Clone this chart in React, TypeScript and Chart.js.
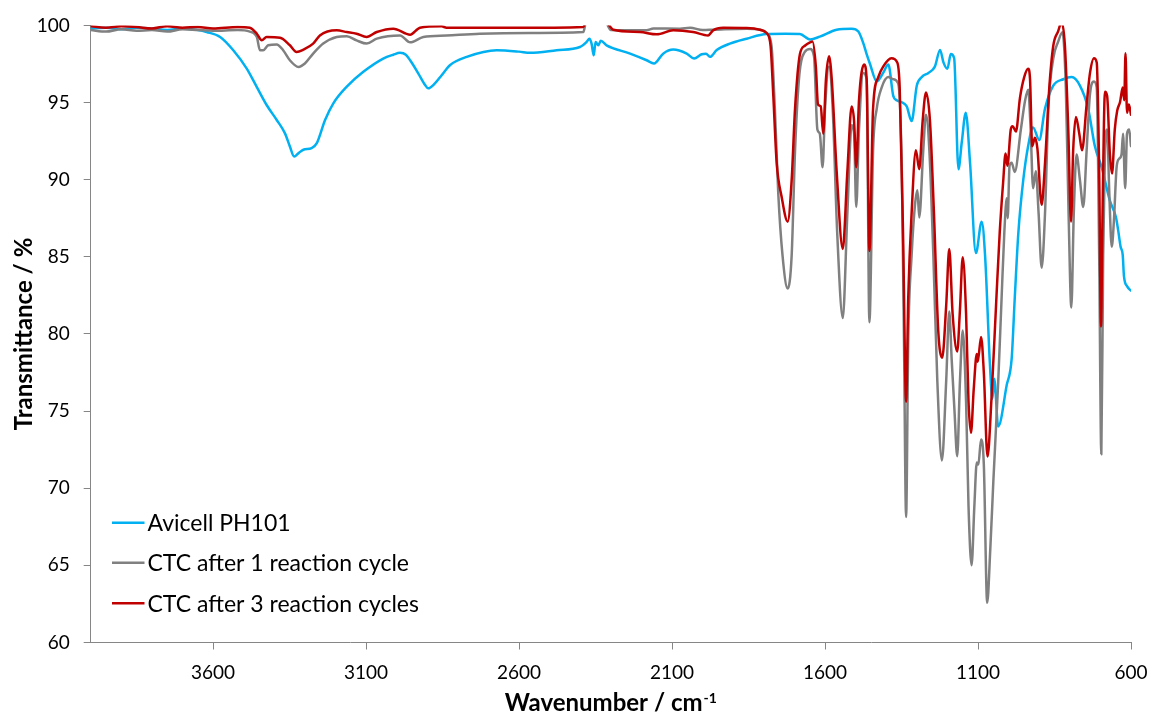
import React, { useEffect, useRef } from "react";
import { Chart, registerables } from "chart.js";

Chart.register(...registerables);

// ---------------- DATA ----------------
const seriesLabels = ["Avicell PH101", "CTC after 1 reaction cycle", "CTC after 3 reaction cycles"];
const seriesColors = ["#00B0F0", "#808080", "#C00000"];

const xTickValues = [3600, 3100, 2600, 2100, 1600, 1100, 600];
const yTickStep = 5;

// Avicell PH101
const avicelWn = [
  4000, 3950, 3900, 3850, 3800, 3750, 3700, 3650, 3621, 3577, 3534, 3490, 3457, 3425, 3392, 3365, 3349, 3335,
  3321, 3305, 3278, 3261, 3234, 3207, 3163, 3109, 3044, 3011, 2989, 2970, 2956, 2929, 2907, 2897, 2875, 2853,
  2826, 2771, 2673, 2600, 2564, 2477, 2401, 2379, 2370, 2363, 2356, 2350, 2341, 2333, 2314, 2237, 2183, 2159,
  2129, 2096, 2052, 2028, 2003, 1989, 1976, 1954, 1911, 1856, 1791, 1730, 1682, 1649, 1617, 1562, 1513, 1491,
  1475, 1464, 1453, 1431, 1410, 1393, 1377, 1366, 1349, 1333, 1317, 1300, 1284, 1262, 1241, 1224, 1213, 1200,
  1189, 1178, 1164, 1153, 1140, 1126, 1107, 1088, 1077, 1061, 1053, 1047, 1034, 1006, 990, 980, 968, 952, 936,
  920, 900, 881, 854, 821, 794, 767, 740, 718, 696, 669, 649, 642, 634, 627, 623, 612, 600,
];
const avicelT = [
  99.8, 99.85, 99.75, 99.85, 99.8, 99.7, 99.8, 99.7, 99.57, 99.25, 98.39, 97.2, 96.0, 94.84, 93.87, 93.0, 92.15, 91.5,
  91.72, 91.94, 92.05, 92.37, 93.87, 94.95, 96.03, 96.99, 97.85, 98.1, 98.22, 98.1, 97.74, 96.88, 96.13, 95.92, 96.24, 96.77,
  97.42, 97.96, 98.39, 98.3, 98.22, 98.39, 98.6, 98.93, 99.14, 98.82, 98.06, 98.93, 98.71, 99.0, 98.71, 98.17, 97.74, 97.53,
  98.17, 98.43, 98.17, 97.85, 98.13, 98.17, 97.96, 98.4, 98.82, 99.14, 99.44, 99.46, 99.45, 99.09, 99.27, 99.72, 99.79, 99.6,
  98.85, 98.14, 97.5, 96.37, 96.92, 97.46, 95.43, 95.15, 95.02, 94.75, 93.8, 96.1, 96.65, 96.92, 97.33, 98.41, 97.6, 97.19,
  98.14, 97.87, 90.68, 92.44, 94.34, 91.08, 85.24, 87.28, 85.11, 78.0, 75.8, 77.1, 74.0, 76.7, 78.4, 82.3, 86.6, 90.0, 92.2,
  93.39, 92.57, 94.61, 96.1, 96.51, 96.65, 96.1, 94.61, 92.17, 90.81, 88.64, 87.55, 86.73, 85.65, 85.11, 83.75, 83.07, 82.8,
];

// CTC after 1 reaction cycle
const ctc1Wn = [
  4000, 3950, 3900, 3850, 3800, 3750, 3700, 3650, 3600, 3520, 3480, 3457, 3447, 3436, 3420, 3392, 3371, 3349,
  3321, 3300, 3273, 3240, 3196, 3163, 3131, 3098, 3065, 2989, 2956, 2913, 2837, 2728, 2564, 2390, 2380, 2320,
  2300, 2183, 2161, 2074, 2041, 2000, 1966, 1856, 1813, 1791, 1775, 1764, 1753, 1739, 1722, 1709, 1698, 1684,
  1666, 1649, 1636, 1625, 1617, 1608, 1600, 1587, 1575, 1560, 1542, 1527, 1513, 1505, 1498, 1489, 1475, 1464,
  1455, 1443, 1431, 1415, 1393, 1377, 1361, 1349, 1342, 1335, 1328, 1317, 1306, 1298, 1292, 1279, 1270, 1259,
  1246, 1233, 1218, 1204, 1194, 1186, 1177, 1168, 1159, 1150, 1139, 1131, 1121, 1112, 1104, 1099, 1090, 1081,
  1070, 1060, 1050, 1034, 1023, 1014, 1006, 1003, 997, 990, 980, 960, 946, 936, 928, 920, 911, 902, 892, 881, 870,
  854, 838, 824, 813, 804, 795, 787, 778, 767, 756, 745, 734, 721, 712, 704, 697, 691, 685, 678, 671, 663, 656,
  647, 639, 631, 626, 619, 613, 606, 600,
];
const ctc1T = [
  99.7, 99.6, 99.75, 99.65, 99.7, 99.6, 99.75, 99.7, 99.65, 99.7, 99.6, 99.25, 98.39, 98.39, 98.71, 98.77, 98.39, 97.74,
  97.31, 97.53, 98.17, 98.82, 99.25, 99.3, 99.03, 98.82, 99.14, 99.35, 98.9, 99.25, 99.35, 99.46, 99.51, 99.57, 100.3, 100.3,
  99.7, 99.68, 99.8, 99.79, 99.85, 99.7, 99.72, 99.79, 99.72, 99.5, 98.68, 94.61, 89.18, 85.11, 82.94, 85.11, 91.9, 96.79,
  98.28, 98.47, 98.0, 93.25, 92.98, 90.81, 94.61, 97.33, 94.61, 86.46, 81.03, 87.83, 93.52, 92.98, 88.23, 93.25, 96.92, 96.51,
  80.76, 91.9, 94.61, 95.97, 96.65, 96.51, 96.24, 90.54, 79.68, 68.14, 79.68, 85.11, 88.37, 89.32, 87.55, 91.9, 94.21, 91.9,
  85.11, 76.96, 71.8, 76.96, 81.45, 78.32, 75.06, 72.08, 76.96, 80.22, 75.61, 68.82, 65.01, 68.82, 71.66, 71.53, 73.16, 71.53,
  62.57, 66.0, 70.4, 76.9, 82.3, 86.6, 88.8, 87.5, 90.9, 91.1, 90.5, 93.25, 95.15, 95.83, 93.25, 89.45, 90.54, 87.83, 84.29, 87.83, 94.61,
  97.87, 98.95, 99.55, 95.97, 87.83, 81.72, 87.83, 91.63, 89.99, 88.23, 91.9, 95.56, 96.37, 95.97, 85.11, 72.21, 85.11, 91.9, 93.25, 89.18, 85.65, 87.28,
  90.81, 91.35, 91.63, 92.98, 89.45, 92.98, 93.25, 92.17,
];

// CTC after 3 reaction cycles
const ctc3Wn = [
  4000, 3950, 3900, 3850, 3800, 3750, 3700, 3650, 3600, 3520, 3480, 3457, 3441, 3425, 3381, 3349, 3327, 3305,
  3273, 3251, 3196, 3163, 3131, 3098, 3065, 3011, 2956, 2924, 2853, 2837, 2619, 2390, 2380, 2320, 2292, 2205,
  2150, 2096, 2031, 1982, 1966, 1933, 1856, 1813, 1791, 1778, 1769, 1758, 1742, 1722, 1709, 1698, 1682, 1666,
  1649, 1641, 1630, 1623, 1614, 1606, 1597, 1587, 1578, 1562, 1542, 1527, 1513, 1505, 1498, 1489, 1472, 1464,
  1455, 1443, 1426, 1410, 1383, 1364, 1356, 1345, 1335, 1328, 1317, 1303, 1292, 1281, 1270, 1257, 1244, 1230,
  1217, 1204, 1194, 1183, 1168, 1159, 1150, 1139, 1131, 1123, 1114, 1104, 1101, 1090, 1081, 1069, 1056, 1040,
  1029, 1018, 1010, 1004, 993, 987, 976, 963, 949, 936, 930, 923, 914, 906, 892, 881, 867, 854, 838, 827, 816,
  805, 796, 789, 780, 769, 760, 745, 734, 721, 712, 704, 698, 693, 685, 678, 669, 662, 653, 645, 636, 627, 622,
  618, 613, 607, 600,
];
const ctc3T = [
  99.95, 99.85, 99.95, 99.9, 99.8, 99.95, 99.85, 99.9, 99.8, 99.9, 99.85, 99.46, 99.03, 99.25, 99.2, 98.71, 98.28, 98.43,
  98.82, 99.35, 99.68, 99.57, 99.46, 99.25, 99.57, 99.79, 99.4, 99.85, 99.94, 99.85, 99.84, 99.9, 100.3, 100.3, 99.72, 99.57,
  99.42, 99.68, 99.57, 99.35, 99.68, 99.85, 99.83, 99.72, 99.5, 98.68, 95.43, 91.08, 88.91, 87.28, 89.99, 94.61, 98.14, 98.68,
  98.9, 98.95, 97.33, 94.88, 94.75, 92.98, 96.51, 98.0, 96.51, 90.54, 85.51, 90.54, 94.75, 93.8, 90.81, 95.15, 97.46, 96.51,
  85.38, 94.61, 96.65, 97.33, 97.87, 97.6, 95.97, 86.46, 75.61, 82.39, 87.83, 91.9, 90.68, 93.8, 95.65, 93.8, 87.83, 80.22,
  78.46, 81.85, 85.51, 81.31, 78.87, 81.58, 84.97, 81.31, 75.61, 73.6, 76.42, 78.7, 78.2, 79.81, 77.5, 72.05, 75.8, 82.3,
  86.6, 89.8, 91.7, 90.9, 93.25, 93.47, 93.12, 95.29, 96.65, 97.19, 96.51, 92.17, 92.71, 92.03, 88.37, 91.08, 95.97, 98.68, 99.63, 100.2, 98.68,
  93.25, 87.28, 91.9, 94.07, 92.98, 91.9, 94.88, 96.92, 97.87, 97.6, 90.54, 80.49, 87.83, 95.7, 95.43, 91.63, 90.4, 93.25, 94.48, 95.02, 95.97, 95.15,
  98.19, 94.34, 94.88, 94.21,
];

const seriesWn = [avicelWn, ctc1Wn, ctc3Wn];
const seriesT = [avicelT, ctc1T, ctc3T];

// ---------------- STYLE ----------------
const FONT = "Lato, 'Open Sans', sans-serif";
const AXIS_COLOR = "#868686";

const overlayPlugin = {
  id: "overlay",
  afterDraw(chart: any) {
    const ctx = chart.ctx as CanvasRenderingContext2D;
    const area = chart.chartArea;
    ctx.save();
    // legend
    const legendY = [522.7, 562.7, 603.3];
    seriesLabels.forEach((label, i) => {
      ctx.strokeStyle = seriesColors[i];
      ctx.lineWidth = 2.5;
      ctx.beginPath();
      ctx.moveTo(112, legendY[i]);
      ctx.lineTo(144.5, legendY[i]);
      ctx.stroke();
      ctx.fillStyle = "#000";
      ctx.font = `23px ${FONT}`;
      ctx.textBaseline = "middle";
      ctx.textAlign = "left";
      ctx.fillText(label, 147.5, legendY[i] + 1);
    });
    // x-axis title with superscript
    const main = "Wavenumber / cm";
    const sup = "-1";
    ctx.font = `bold 24px ${FONT}`;
    const wMain = ctx.measureText(main).width;
    ctx.font = `bold 14px ${FONT}`;
    const wSup = ctx.measureText(sup).width;
    const cx = (area.left + area.right) / 2;
    const startX = cx - (wMain + wSup + 1) / 2;
    const baseY = 711;
    ctx.fillStyle = "#000";
    ctx.textBaseline = "alphabetic";
    ctx.font = `bold 24px ${FONT}`;
    ctx.fillText(main, startX, baseY);
    ctx.font = `bold 14px ${FONT}`;
    ctx.fillText(sup, startX + wMain + 1, baseY - 8);
    ctx.restore();
  },
};

export default function App() {
  const canvasRef = useRef<HTMLCanvasElement | null>(null);

  useEffect(() => {
    let chart: Chart | null = null;
    let cancelled = false;
    const build = () => {
      if (cancelled || !canvasRef.current) return;
      const datasets = seriesLabels.map((label, i) => ({
        label,
        data: seriesWn[i].map((w, j) => ({ x: w, y: seriesT[i][j] })),
        borderColor: seriesColors[i],
        backgroundColor: seriesColors[i],
        borderWidth: 2.5,
        pointRadius: 0,
        fill: false,
        cubicInterpolationMode: "monotone" as const,
        clip: 0,
        order: 2 - i,
      }));
      chart = new Chart(canvasRef.current, {
        type: "line",
        data: { datasets },
        options: {
          animation: false,
          responsive: false,
          devicePixelRatio: 1,
          parsing: false as any,
          layout: { padding: { left: 0, right: 19, top: 21.7, bottom: 0 } },
          plugins: { legend: { display: false }, tooltip: { enabled: false } },
          elements: { line: { borderJoinStyle: "round", borderCapStyle: "round" } },
          scales: {
            x: {
              type: "linear",
              reverse: true,
              min: 600,
              max: 4000,
              afterBuildTicks: (scale: any) => {
                scale.ticks = xTickValues.map((v) => ({ value: v }));
              },
              afterFit: (scale: any) => {
                scale.height = 74.5;
                scale.paddingLeft = 0;
                scale.paddingRight = 0;
              },
              grid: { drawOnChartArea: false, drawTicks: true, tickLength: 7, color: AXIS_COLOR, tickColor: AXIS_COLOR },
              border: { display: true, color: AXIS_COLOR, width: 1 },
              ticks: {
                color: "#000",
                font: { family: FONT, size: 19 },
                padding: 12,
                maxRotation: 0,
                autoSkip: false,
                callback: (v: any) => String(v),
              },
              title: { display: false },
            },
            y: {
              type: "linear",
              min: 60,
              max: 100,
              ticks: { stepSize: yTickStep, color: "#000", font: { family: FONT, size: 19 }, padding: 14, callback: (v: any) => String(v) },
              afterFit: (scale: any) => {
                scale.width = 90.7;
              },
              grid: { drawOnChartArea: false, drawTicks: true, tickLength: 7, color: AXIS_COLOR, tickColor: AXIS_COLOR },
              border: { display: true, color: AXIS_COLOR, width: 1 },
              title: {
                display: true,
                text: "Transmittance / %",
                color: "#000",
                font: { family: FONT, size: 24, weight: "bold" },
                padding: { top: 9.6, bottom: 0 },
              },
            },
          },
        },
        plugins: [overlayPlugin],
      });
    };
    const fontsReady = (document as any).fonts
      ? Promise.all([
          (document as any).fonts.load(`20px Lato`),
          (document as any).fonts.load(`bold 20px Lato`),
        ]).catch(() => null)
      : Promise.resolve(null);
    fontsReady.then(build);
    return () => {
      cancelled = true;
      if (chart) chart.destroy();
    };
  }, []);

  return (
    <div style={{ position: "absolute", left: 0, top: 0, width: 1150, height: 717, background: "#fff" }}>
      <canvas ref={canvasRef} width={1150} height={717} style={{ display: "block" }} />
    </div>
  );
}
